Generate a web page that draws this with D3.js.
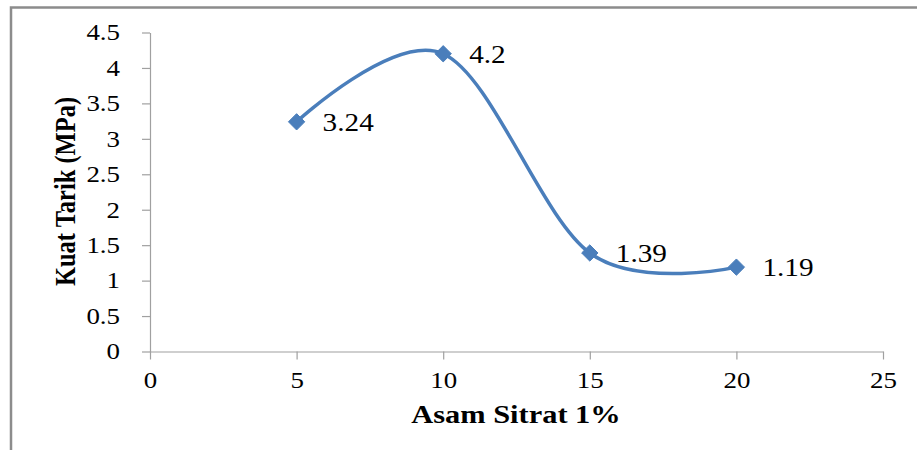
<!DOCTYPE html>
<html>
<head>
<meta charset="utf-8">
<script src="https://cdn.jsdelivr.net/npm/d3@7"></script>
<style>
  body { margin: 0; background: #fff; }
  svg text { font-family: "Liberation Serif", "Times New Roman", Times, "DejaVu Serif", serif; fill: #000; }
</style>
</head>
<body>
<div id="chart"></div>
<script>
// chart data
const asamSitrat = [5, 10, 15, 20];
const kuatTarik = [3.24, 4.2, 1.39, 1.19];
const dataLabels = ["3.24", "4.2", "1.39", "1.19"];
const xTicks = [0, 5, 10, 15, 20, 25];
const yTicks = [0, 0.5, 1, 1.5, 2, 2.5, 3, 3.5, 4, 4.5];

const width = 917;
const height = 450;
const margin = {top: 32.5, right: 34, bottom: 98.5, left: 150};
const serif = '"Liberation Serif", "Times New Roman", Times, "DejaVu Serif", serif';
// the source picture is a bit wider than tall, so its text looks stretched sideways
const sx = 1.17;

const svg = d3.select("#chart")
    .append("svg")
    .attr("width", width)
    .attr("height", height);

// frame: only the top and left edges show in the picture
svg.append("path")
    .attr("d", `M11,${height} L11,7.5 L${width},7.5`)
    .attr("fill", "none")
    .attr("stroke", "#8c8c8c")
    .attr("stroke-width", 2.5);

const x = d3.scaleLinear().domain([0, 25]).range([margin.left, width - margin.right]);
const y = d3.scaleLinear().domain([0, 4.5]).range([height - margin.bottom, margin.top]);

// y axis
const yAxis = svg.append("g")
    .attr("transform", `translate(${margin.left},0)`)
    .call(d3.axisLeft(y).tickValues(yTicks).tickSize(8).tickPadding(22).tickSizeOuter(0).tickFormat(d => d));
// x axis
const xAxis = svg.append("g")
    .attr("transform", `translate(0,${y(0)})`)
    .call(d3.axisBottom(x).tickValues(xTicks).tickSize(8).tickPadding(12).tickSizeOuter(0));

[xAxis, yAxis].forEach(a => {
    a.attr("font-family", serif);
    a.selectAll("path, line").attr("stroke", "#a0a0a0").attr("stroke-width", 1.2);
    a.selectAll("text")
        .style("font-size", "23px")
        .style("font-family", serif)
        .attr("x", function() { return (+d3.select(this).attr("x") || 0) / sx; })
        .attr("transform", `scale(${sx},1)`);
});

// axis titles
svg.append("text")
    .attr("transform", `translate(516,423) scale(${sx},1)`)
    .attr("text-anchor", "middle")
    .style("font-family", serif)
    .style("font-size", "26px")
    .style("font-weight", "bold")
    .text("Asam Sitrat 1%");

svg.append("text")
    .attr("transform", `translate(75,191.5) scale(${sx},1) rotate(-90)`)
    .attr("text-anchor", "middle")
    .style("font-family", serif)
    .style("font-size", "24.5px")
    .style("font-weight", "bold")
    .text("Kuat Tarik (MPa)");

// smoothed line, like the spreadsheet smoothing
const points = asamSitrat.map((d, i) => [d, kuatTarik[i]]);
const line = d3.line()
    .x(d => x(d[0]))
    .y(d => y(d[1]))
    .curve(d3.curveCardinal.tension(0));

svg.append("path")
    .datum(points)
    .attr("d", line)
    .attr("fill", "none")
    .attr("stroke", "#4a7ebb")
    .attr("stroke-width", 3.5);

// diamond markers
const diamond = d3.symbol().type(d3.symbolDiamond2).size(170);
svg.selectAll(".marker")
    .data(points)
    .enter()
    .append("path")
    .attr("class", "marker")
    .attr("d", diamond)
    .attr("transform", d => `translate(${x(d[0])},${y(d[1])})`)
    .attr("fill", "#4a7ebb")
    .attr("stroke", "#4a7ebb")
    .attr("stroke-width", 1);

// data labels
svg.selectAll(".label")
    .data(points)
    .enter()
    .append("text")
    .attr("class", "label")
    .attr("transform", d => `translate(${x(d[0]) + 26},${y(d[1]) + 9}) scale(${sx},1)`)
    .style("font-family", serif)
    .style("font-size", "25px")
    .text((d, i) => dataLabels[i]);
</script>
</body>
</html>
